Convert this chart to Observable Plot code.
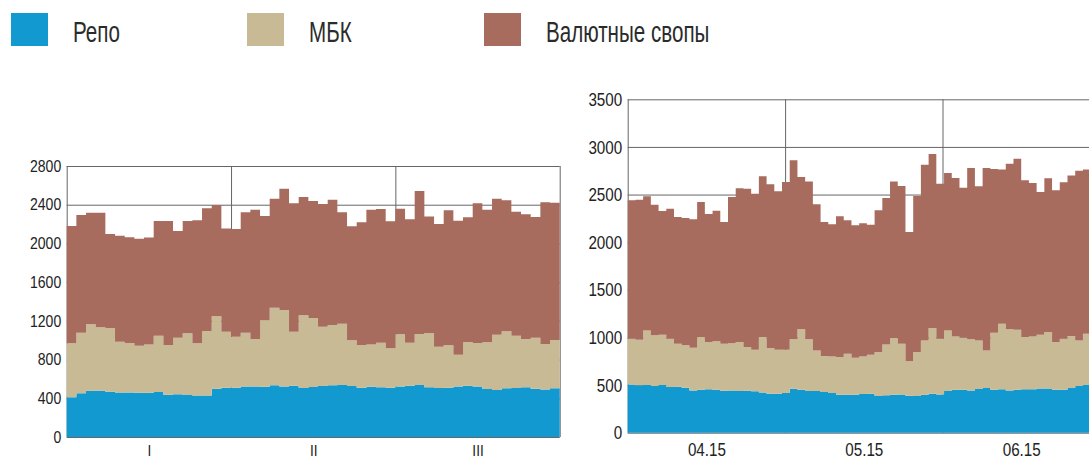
<!DOCTYPE html>
<html><head><meta charset="utf-8">
<script src="https://cdn.jsdelivr.net/npm/d3@7"></script>
<script src="https://cdn.jsdelivr.net/npm/@observablehq/plot@0.6"></script>
<style>
html,body{margin:0;padding:0;background:#fff;width:1089px;height:456px;overflow:hidden;}
#root{position:relative;width:1089px;height:456px;overflow:hidden;font-family:"Liberation Sans",Arial,sans-serif;}
#legend,#left,#right{position:absolute;}
#legend{left:0;top:0;width:1089px;height:60px;}
#left{left:0;top:150px;width:575px;height:306px;}
#right{left:560px;top:80px;width:560px;height:376px;}
#root svg{max-width:none !important;display:block;}
</style></head><body><div id="root"><div id="legend"></div><div id="left"></div><div id="right"></div></div>
<script>
const seriesNames = ["Репо", "МБК", "Валютные свопы"];
const seriesColors = ["#1299d0", "#c8ba94", "#a86c5f"];
const quarterLabels = ["I", "II", "III"];
const monthLabels = ["04.15", "05.15", "06.15"];
const leftTicks = [0, 400, 800, 1200, 1600, 2000, 2400, 2800];
const rightTicks = [0, 500, 1000, 1500, 2000, 2500, 3000, 3500];
const leftStepsPerQuarter = 17;
const rightStepsPerMonth = 20.4;

// Left panel (three quarters)
const leftRepo = [410,451,479,479,468,461,461,458,458,465,437,441,434,430,430,499,510,
  510,523,523,520,534,523,530,506,517,527,534,537,527,510,520,513,510,
  523,530,537,513,506,510,523,530,523,496,486,503,506,513,499,492,503];
const leftMbk = [558,627,685,654,658,524,510,486,499,582,514,585,637,538,665,748,578,
  527,555,490,685,802,789,558,751,713,613,623,634,472,441,437,462,406,
  538,445,527,562,427,437,328,452,448,482,571,589,541,500,527,469,499];
const leftSwap = [1212,1216,1154,1185,971,1095,1092,1105,1103,1185,1281,1102,1161,1271,1268,1150,1067,
  1112,1243,1336,1079,1126,1254,1326,1223,1208,1267,1295,1150,1178,1267,1392,1381,1312,
  1298,1274,1478,1202,1268,1395,1384,1288,1443,1371,1405,1353,1281,1288,1247,1464,1419];

// Right panel (April-June 2015, daily)
const rightRepo = [507,497,500,490,500,479,483,472,444,451,455,451,441,444,437,441,434,423,409,409,416,
  462,451,437,437,427,416,399,399,399,406,409,385,392,399,402,388,385,399,409,402,
  437,451,451,444,458,469,451,455,444,451,455,455,465,465,451,451,469,490,500];
const rightMbk = [480,479,574,532,529,508,451,445,448,553,497,508,493,494,515,458,437,581,480,462,455,
  518,634,543,427,378,385,395,430,388,395,410,462,535,595,532,361,462,570,690,585,
  637,560,546,536,511,395,599,689,641,630,549,556,564,592,501,536,546,479,539];
const rightSwap = [1452,1470,1407,1371,1298,1365,1330,1337,1348,1418,1344,1372,1278,1536,1613,1663,1638,1687,1718,1663,1760,
  1879,1599,1658,1533,1407,1386,1477,1400,1390,1397,1365,1487,1537,1644,1656,1358,1637,1844,1826,1627,
  1652,1662,1575,1798,1617,1914,1718,1620,1739,1795,1645,1610,1497,1613,1592,1641,1686,1781,1725];

function buildRows(arrs, endX) {
  const rows = [];
  arrs.forEach((arr, s) => {
    arr.forEach((v, i) => rows.push({s: seriesNames[s], i, v}));
    rows.push({s: seriesNames[s], i: endX, v: arr[arr.length - 1]});
  });
  return rows;
}

function squeeze(svg, selector, factor) {
  d3.select(svg).selectAll(selector).each(function() {
    const len = this.getComputedTextLength();
    this.setAttribute("textLength", len * factor);
    this.setAttribute("lengthAdjust", "spacingAndGlyphs");
  });
}

// Legend
const legend = d3.select("#legend").append("svg").attr("width", 1089).attr("height", 60)
  .style("font-family", '"Liberation Sans", Arial, sans-serif');
const legendX = [11, 247, 484];
seriesNames.forEach((name, k) => {
  legend.append("rect").attr("x", legendX[k]).attr("y", 13).attr("width", 37).attr("height", 33)
    .attr("fill", seriesColors[k]);
  legend.append("text").attr("x", legendX[k] + 62).attr("y", 42).attr("font-size", 29)
    .attr("fill", "#2b2b2b").text(name);
});

const color = {domain: seriesNames, range: seriesColors};
const plotStyle = {fontFamily: '"Liberation Sans", Arial, sans-serif', color: "#222", background: "transparent", maxWidth: "none", overflow: "visible"};
const leftEnd = 3 * leftStepsPerQuarter;
const leftRows = buildRows([leftRepo, leftMbk, leftSwap], leftEnd);
const leftPlot = Plot.plot({
  width: 575, height: 306,
  marginLeft: 66.7, marginRight: 15.3, marginTop: 16, marginBottom: 19,
  style: plotStyle,
  x: {domain: [0, leftEnd], axis: null},
  y: {domain: [0, 2800], axis: null},
  color,
  marks: [
    Plot.ruleY(leftTicks, {stroke: "#666", strokeWidth: 1}),
    Plot.ruleX([0, 1, 2, 3].map(q => q * leftStepsPerQuarter), {stroke: "#666", strokeWidth: 1}),
    Plot.areaY(leftRows, {x: "i", y: "v", fill: "s", curve: "step-after"}),
    Plot.axisY({ticks: leftTicks, tickFormat: d => String(d), label: null, tickSize: 0, tickPadding: 6, fontSize: 16.5}),
    Plot.axisX({ticks: quarterLabels.map((_, q) => (q + 0.5) * leftStepsPerQuarter),
      tickFormat: d => quarterLabels[Math.floor(d / leftStepsPerQuarter)], label: null,
      tickSize: 0, tickPadding: 8, fontSize: 16})
  ]
});
document.getElementById("left").appendChild(leftPlot);

const rightEnd = 3 * rightStepsPerMonth;
const rightRows = buildRows([rightRepo, rightMbk, rightSwap], rightEnd);
const rightPlot = Plot.plot({
  width: 560, height: 376,
  marginLeft: 67.7, marginRight: 20.1, marginTop: 19.3, marginBottom: 23.3,
  style: plotStyle,
  x: {domain: [0, rightEnd], axis: null},
  y: {domain: [0, 3500], axis: null},
  color,
  marks: [
    Plot.ruleY(rightTicks, {stroke: "#666", strokeWidth: 1}),
    Plot.ruleX([0, 1, 2, 3].map(m => m * rightStepsPerMonth), {stroke: "#666", strokeWidth: 1}),
    Plot.areaY(rightRows, {x: "i", y: "v", fill: "s", curve: "step-after"}),
    Plot.axisY({ticks: rightTicks, tickFormat: d => String(d), label: null, tickSize: 0, tickPadding: 6, fontSize: 19}),
    Plot.axisX({ticks: monthLabels.map((_, m) => (m + 0.5) * rightStepsPerMonth),
      tickFormat: d => monthLabels[Math.floor(d / rightStepsPerMonth)], label: null,
      tickSize: 0, tickPadding: 9, fontSize: 19})
  ]
});
document.getElementById("right").appendChild(rightPlot);

// condensed look of the original typeface
legend.selectAll("text").each(function() {
  const len = this.getComputedTextLength();
  this.setAttribute("textLength", len * 0.71);
  this.setAttribute("lengthAdjust", "spacingAndGlyphs");
});
squeeze(rightPlot, 'g[aria-label="y-axis tick label"] text, g[aria-label="x-axis tick label"] text', 0.8);
squeeze(leftPlot, 'g[aria-label="y-axis tick label"] text, g[aria-label="x-axis tick label"] text', 0.85);
</script></body></html>
